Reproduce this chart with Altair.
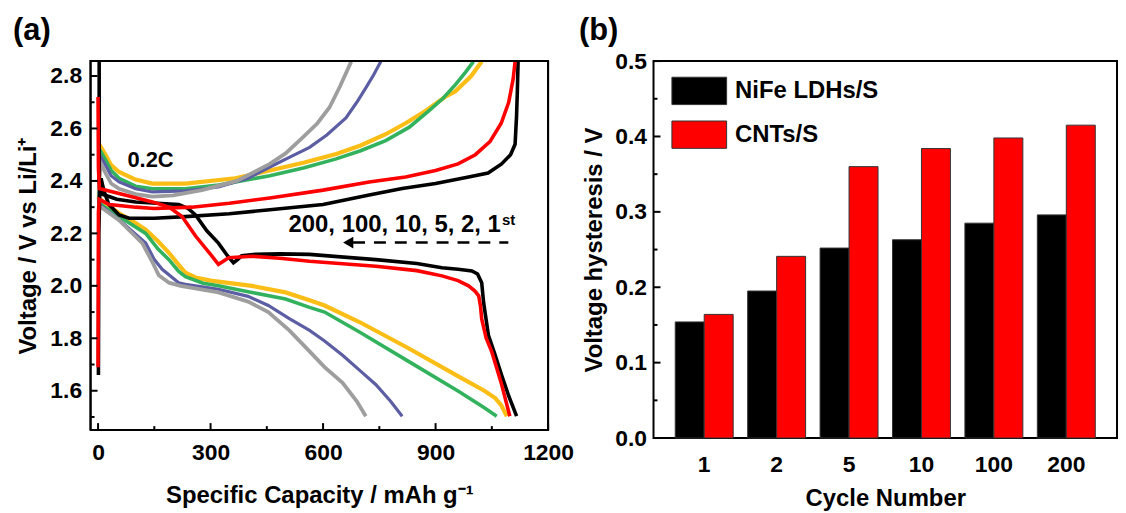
import altair as alt
import pandas as pd

# ---------------- Panel (a): charge / discharge profiles ----------------
# cycle 1 (black)
C1_DIS_CAP = [3, 3, 3, 10, 50, 100, 215, 240, 260, 290, 321, 345, 361, 372, 383, 420, 485, 564, 741, 850, 917, 960, 997, 1012, 1023, 1028, 1041, 1058, 1076, 1095, 1116]
C1_DIS_V = [2.855, 2.75, 2.40, 2.35, 2.33, 2.32, 2.31, 2.295, 2.27, 2.21, 2.163, 2.115, 2.088, 2.10, 2.115, 2.12, 2.122, 2.12, 2.10, 2.085, 2.069, 2.063, 2.057, 2.045, 2.012, 1.937, 1.811, 1.74, 1.66, 1.58, 1.503]
C1_CHG_CAP = [1, 2, 5, 8, 16, 29, 56, 83, 150, 233, 350, 458, 600, 723, 811, 900, 988, 1040, 1076, 1100, 1112, 1116, 1118, 1120]
C1_CHG_V = [1.66, 2.20, 2.38, 2.41, 2.36, 2.31, 2.27, 2.258, 2.258, 2.264, 2.275, 2.29, 2.31, 2.346, 2.371, 2.39, 2.415, 2.43, 2.465, 2.50, 2.54, 2.65, 2.74, 2.855]
# cycle 2 (red)
C2_DIS_CAP = [0, 1, 3.5, 56, 145, 189, 224, 260, 300, 321, 335, 348, 410, 485, 564, 741, 850, 917, 960, 988, 1005, 1015, 1020, 1023, 1035, 1050, 1075, 1098]
C2_DIS_V = [2.72, 2.45, 2.371, 2.352, 2.32, 2.30, 2.264, 2.19, 2.12, 2.082, 2.095, 2.107, 2.113, 2.105, 2.094, 2.075, 2.058, 2.038, 2.02, 2.0, 1.98, 1.962, 1.92, 1.874, 1.80, 1.748, 1.63, 1.503]
C2_CHG_CAP = [0, 1, 3, 30, 100, 150, 250, 350, 458, 600, 723, 820, 900, 960, 1006, 1045, 1075, 1095, 1107, 1112]
C2_CHG_V = [1.69, 2.28, 2.33, 2.31, 2.30, 2.295, 2.30, 2.315, 2.335, 2.365, 2.396, 2.415, 2.44, 2.465, 2.50, 2.55, 2.62, 2.70, 2.79, 2.855]
# cycle 5 (yellow)
C5_DIS_CAP = [0, 8, 56, 100, 127, 160, 189, 215, 233, 260, 300, 410, 500, 564, 604, 697, 829, 962, 1030, 1059, 1075, 1090]
C5_DIS_V = [2.335, 2.327, 2.277, 2.24, 2.214, 2.17, 2.126, 2.08, 2.05, 2.032, 2.02, 2.0, 1.975, 1.945, 1.925, 1.862, 1.761, 1.654, 1.60, 1.572, 1.545, 1.503]
C5_CHG_CAP = [2, 4, 8, 20, 35, 56, 100, 145, 233, 366, 458, 550, 635, 700, 767, 820, 873, 925, 953, 995, 1023]
C5_CHG_V = [2.33, 2.48, 2.528, 2.50, 2.46, 2.434, 2.405, 2.39, 2.39, 2.41, 2.44, 2.47, 2.503, 2.535, 2.578, 2.62, 2.667, 2.72, 2.742, 2.80, 2.855]
# cycle 10 (green)
C10_DIS_CAP = [0, 8, 56, 127, 160, 189, 215, 233, 280, 321, 410, 500, 564, 604, 697, 829, 962, 1030, 1063]
C10_DIS_V = [2.315, 2.31, 2.264, 2.20, 2.14, 2.10, 2.055, 2.035, 2.01, 2.0, 1.975, 1.95, 1.918, 1.90, 1.824, 1.711, 1.597, 1.535, 1.503]
C10_CHG_CAP = [2, 4, 8, 20, 35, 56, 100, 145, 233, 321, 458, 550, 635, 700, 767, 830, 882, 920, 953, 980, 1001]
C10_CHG_V = [2.31, 2.46, 2.51, 2.48, 2.44, 2.41, 2.38, 2.37, 2.37, 2.384, 2.42, 2.45, 2.484, 2.515, 2.554, 2.605, 2.667, 2.715, 2.767, 2.815, 2.855]
# cycle 100 (blue)
C100_DIS_CAP = [0, 8, 56, 127, 150, 171, 215, 233, 321, 400, 454, 510, 564, 604, 652, 700, 741, 780, 811]
C100_DIS_V = [2.31, 2.305, 2.252, 2.163, 2.10, 2.063, 2.012, 2.006, 1.987, 1.96, 1.925, 1.875, 1.83, 1.79, 1.735, 1.675, 1.623, 1.56, 1.503]
C100_CHG_CAP = [2, 4, 8, 20, 35, 56, 100, 145, 233, 321, 400, 458, 510, 564, 610, 661, 690, 714, 735, 754]
C100_CHG_V = [2.30, 2.44, 2.49, 2.46, 2.42, 2.396, 2.37, 2.358, 2.362, 2.377, 2.41, 2.453, 2.49, 2.528, 2.575, 2.64, 2.70, 2.755, 2.805, 2.855]
# cycle 200 (grey)
C200_DIS_CAP = [0, 8, 56, 118, 145, 162, 189, 220, 321, 400, 454, 510, 564, 604, 652, 690, 714]
C200_DIS_V = [2.30, 2.30, 2.25, 2.163, 2.09, 2.04, 2.012, 2.0, 1.975, 1.94, 1.90, 1.83, 1.75, 1.69, 1.63, 1.56, 1.503]
C200_CHG_CAP = [2, 4, 8, 20, 35, 56, 100, 145, 200, 277, 370, 458, 500, 546, 585, 617, 645, 675]
C200_CHG_V = [2.36, 2.42, 2.465, 2.43, 2.39, 2.37, 2.35, 2.34, 2.345, 2.365, 2.40, 2.465, 2.505, 2.566, 2.62, 2.68, 2.76, 2.855]

A_X_DOMAIN = [-20, 1200]
A_Y_DOMAIN = [1.45, 2.857]
A_X_MAJOR = [0, 300, 600, 900, 1200]
A_X_MINOR = [150, 450, 750, 1050]
A_Y_MAJOR = [1.6, 1.8, 2.0, 2.2, 2.4, 2.6, 2.8]
A_Y_MINOR = [1.5, 1.7, 1.9, 2.1, 2.3, 2.5, 2.7]

# annotations (data coordinates)
RATE_LABEL = ["0.2C"]
RATE_POS = [140, 2.479]
ORDER_LABEL = ["200, 100, 10, 5, 2, 1"]
ORDER_POS = [508, 2.205]
SUP_LABEL = ["st"]
SUP_POS = [1077, 2.232]
ARROW_CAP = [680, 1094]
ARROW_V = 2.165
ARROW_HEAD = [667, 2.165]

# ---------------- Panel (b): voltage hysteresis ----------------
CYCLES = ["1", "2", "5", "10", "100", "200"]
SERIES = ["NiFe LDHs/S", "CNTs/S"]
NIFE = [0.154, 0.195, 0.252, 0.263, 0.285, 0.296]
CNTS = [0.164, 0.241, 0.360, 0.384, 0.398, 0.415]
B_Y_MAJOR = [0.0, 0.1, 0.2, 0.3, 0.4, 0.5]
B_Y_MINOR = [0.05, 0.15, 0.25, 0.35, 0.45]

FONT = "Liberation Sans"
WA, HA = 460, 371
WB, HB = 466, 379

xs_a = alt.Scale(domain=A_X_DOMAIN, nice=False, zero=False)
ys_a = alt.Scale(domain=A_Y_DOMAIN, nice=False, zero=False)
ax_a_x = alt.Axis(values=A_X_MAJOR, format="d", title="Specific Capacity / mAh g⁻¹", labelPadding=12,
                  titlePadding=19, labelFlush=False)
ax_a_y = alt.Axis(values=A_Y_MAJOR, format=".1f", title="Voltage / V vs Li/Li⁺", labelPadding=9, titlePadding=9,
                  labelFlush=False)

PX_X = (A_X_DOMAIN[1] - A_X_DOMAIN[0]) / WA   # data units per pixel
PX_Y = (A_Y_DOMAIN[1] - A_Y_DOMAIN[0]) / HA


def X(f):
    return alt.X(f, scale=xs_a, axis=ax_a_x)


def Y(f):
    return alt.Y(f, scale=ys_a, axis=ax_a_y)


curves = [
    ("a05c", C5_CHG_CAP, C5_CHG_V, "#FBBE17", 4.2),
    ("a05d", C5_DIS_CAP, C5_DIS_V, "#FBBE17", 4.2),
    ("a10c", C10_CHG_CAP, C10_CHG_V, "#33B25E", 3.6),
    ("a10d", C10_DIS_CAP, C10_DIS_V, "#33B25E", 3.6),
    ("b100c", C100_CHG_CAP, C100_CHG_V, "#5C5EA3", 3.2),
    ("b100d", C100_DIS_CAP, C100_DIS_V, "#5C5EA3", 3.2),
    ("b200c", C200_CHG_CAP, C200_CHG_V, "#9E9E9E", 3.8),
    ("b200d", C200_DIS_CAP, C200_DIS_V, "#9E9E9E", 3.8),
    ("c1c", C1_CHG_CAP, C1_CHG_V, "#000000", 3.6),
    ("c1d", C1_DIS_CAP, C1_DIS_V, "#000000", 3.6),
    ("d2c", C2_CHG_CAP, C2_CHG_V, "#FF0000", 3.6),
    ("d2d", C2_DIS_CAP, C2_DIS_V, "#FF0000", 3.6),
]

# the frame and inward ticks are extra paths of the same line mark
x0, x1 = A_X_DOMAIN
y0, y1 = A_Y_DOMAIN
curves.append(("zframe", [x0, x1, x1, x0, x0], [y0, y0, y1, y1, y0], "#000000", 2.0))
for k, tv in enumerate(A_Y_MAJOR):
    curves.append((f"zty{k:02d}", [x0, x0 + 7 * PX_X], [tv, tv], "#000000", 2.0))
for k, tv in enumerate(A_Y_MINOR):
    curves.append((f"ztym{k:02d}", [x0, x0 + 4 * PX_X], [tv, tv], "#000000", 2.0))
for k, tc in enumerate(A_X_MAJOR):
    curves.append((f"ztx{k:02d}", [tc, tc], [y0, y0 + 7 * PX_Y], "#000000", 2.0))
for k, tc in enumerate(A_X_MINOR):
    curves.append((f"ztxm{k:02d}", [tc, tc], [y0, y0 + 4 * PX_Y], "#000000", 2.0))

rows_a = []
for name, cap, v, col, w in curves:
    for i, (c, vv) in enumerate(zip(cap, v)):
        rows_a.append({"g": name, "cap": c, "v": vv, "i": i, "w": w})
df_a = pd.DataFrame(rows_a)
G_IDS = [c[0] for c in curves]
G_COLS = [c[3] for c in curves]

layers_a = [
    alt.Chart(df_a).mark_line(strokeJoin="miter", strokeCap="butt").encode(
        x=X("cap:Q"), y=Y("v:Q"), order="i:Q",
        color=alt.Color("g:N", scale=alt.Scale(domain=G_IDS, range=G_COLS), legend=None),
        strokeWidth=alt.StrokeWidth("w:Q", scale=None, legend=None),
    )
]

# annotations
layers_a.append(alt.Chart(pd.DataFrame({"t": RATE_LABEL, "c": [RATE_POS[0]], "v": [RATE_POS[1]]}))
                .mark_text(fontSize=22, fontWeight="bold", font=FONT, color="black", baseline="middle", align="center")
                .encode(x=X("c:Q"), y=Y("v:Q"), text="t:N"))
layers_a.append(alt.Chart(pd.DataFrame({"t": ORDER_LABEL, "c": [ORDER_POS[0]], "v": [ORDER_POS[1]]}))
                .mark_text(fontSize=24, fontWeight="bold", font=FONT, color="black", baseline="alphabetic", align="left")
                .encode(x=X("c:Q"), y=Y("v:Q"), text="t:N"))
layers_a.append(alt.Chart(pd.DataFrame({"t": SUP_LABEL, "c": [SUP_POS[0]], "v": [SUP_POS[1]]}))
                .mark_text(fontSize=15, fontWeight="bold", font=FONT, color="black", baseline="alphabetic", align="left")
                .encode(x=X("c:Q"), y=Y("v:Q"), text="t:N"))
layers_a.append(alt.Chart(pd.DataFrame({"c": [ARROW_CAP[0]], "c2": [ARROW_CAP[1]], "v": [ARROW_V]}))
                .mark_rule(color="black", strokeWidth=2.5, strokeDash=[12, 9])
                .encode(x=X("c:Q"), x2="c2:Q", y=Y("v:Q")))
layers_a.append(alt.Chart(pd.DataFrame({"c": [ARROW_HEAD[0]], "v": [ARROW_HEAD[1]]}))
                .mark_point(shape="triangle-left", filled=True, size=140, color="black", opacity=1)
                .encode(x=X("c:Q"), y=Y("v:Q")))
layers_a.append(alt.Chart(pd.DataFrame({"t": ["(a)"]}))
                .mark_text(fontSize=31, fontWeight="bold", font=FONT, color="black", align="left", baseline="top")
                .encode(text="t:N", x=alt.value(-78), y=alt.value(-45)))

panel_a = alt.layer(*layers_a).properties(width=WA, height=HA)

# ---------------- Panel (b) ----------------
rows = []
for i, c in enumerate(CYCLES):
    rows.append({"cycle": c, "series": SERIES[0], "val": NIFE[i]})
    rows.append({"cycle": c, "series": SERIES[1], "val": CNTS[i]})
df_b = pd.DataFrame(rows)

ys_b = alt.Scale(domain=[0, 0.5], nice=False)
ax_b_y = alt.Axis(values=B_Y_MAJOR, format=".1f", title="Voltage hysteresis / V", labelPadding=7, titlePadding=8,
                  labelFlush=False)


def YB(f):
    return alt.Y(f, scale=ys_b, axis=ax_b_y)


bars = alt.Chart(df_b).mark_bar(stroke="#333333", strokeWidth=1, opacity=1).encode(
    x=alt.X("cycle:N", sort=CYCLES, scale=alt.Scale(paddingInner=0.2, paddingOuter=0.3),
            axis=alt.Axis(labelAngle=0, title="Cycle Number", labelPadding=16, titlePadding=10)),
    xOffset=alt.XOffset("series:N", sort=SERIES),
    y=YB("val:Q"),
    color=alt.Color("series:N", sort=SERIES,
                    scale=alt.Scale(domain=SERIES, range=["#000000", "#FF0000"]),
                    legend=alt.Legend(orient="none", legendX=18, legendY=2, title=None,
                                      labelFontSize=24, labelFontWeight="bold", labelFont=FONT,
                                      labelColor="black",
                                      symbolType="M-1,-0.5H1V0.5H-1Z", symbolSize=3025,
                                      symbolStrokeColor="#333333", symbolStrokeWidth=1,
                                      symbolOpacity=1, rowPadding=-34, labelOffset=8, padding=0)),
)

layers_b = [bars]
for vals, n in ((B_Y_MAJOR, 7), (B_Y_MINOR, 4)):
    layers_b.append(alt.Chart(pd.DataFrame({"tv": vals})).mark_rule(color="black", strokeWidth=2)
                    .encode(y=YB("tv:Q"), x=alt.value(0), x2=alt.value(n)))
layers_b.append(alt.Chart(pd.DataFrame({"t": ["(b)"]})).mark_text(
    fontSize=31, fontWeight="bold", font=FONT, color="black", align="left", baseline="top"
).encode(text="t:N", x=alt.value(-75), y=alt.value(-45)))

panel_b = alt.layer(*layers_b).properties(width=WB, height=HB)

chart = alt.hconcat(panel_a, panel_b, spacing=106, bounds="flush",
                    padding={"left": 4, "top": 5, "right": 0, "bottom": 0}).resolve_scale(
    color="independent"
).resolve_legend(color="independent").configure(
    font=FONT, background="white"
).configure_view(stroke="black", strokeWidth=2).configure_axis(
    labelColor="black", titleColor="black", labelFontWeight="bold", titleFontWeight="bold",
    labelFontSize=23, titleFontSize=24, labelFont=FONT, titleFont=FONT,
    grid=False, domain=False, ticks=False, tickSize=0
)

chart.save("out.html", embed_options={"renderer": "svg", "actions": False})
